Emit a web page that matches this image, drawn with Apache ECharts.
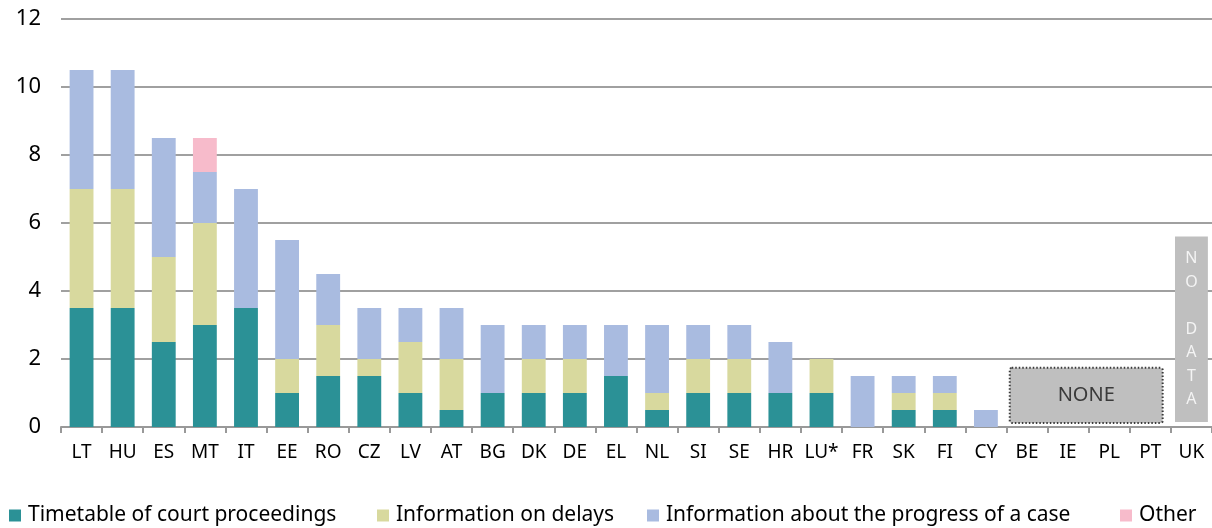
<!DOCTYPE html>
<html>
<head>
<meta charset="utf-8">
<script src="https://cdn.jsdelivr.net/npm/echarts@6/dist/echarts.min.js"></script>
<style>
  html, body { margin: 0; padding: 0; background: #fff; }
  #chart { width: 1212px; height: 528px; }
</style>
</head>
<body>
<div id="chart"></div>
<script>
// Member states, ordered by total number of information types offered
const categories = ['LT','HU','ES','MT','IT','EE','RO','CZ','LV','AT','BG','DK','DE','EL','NL','SI','SE','HR','LU*','FR','SK','FI','CY','BE','IE','PL','PT','UK'];

const timetable = [3.5,3.5,2.5,3,3.5,1,1.5,1.5,1,0.5,1,1,1,1.5,0.5,1,1,1,1,0,0.5,0.5,0,0,0,0,0,0];
const delays    = [3.5,3.5,2.5,3,0,1,1.5,0.5,1.5,1.5,0,1,1,0,0.5,1,1,0,1,0,0.5,0.5,0,0,0,0,0,0];
const progress  = [3.5,3.5,3.5,1.5,3.5,3.5,1.5,1.5,1,1.5,2,1,1,1.5,2,1,1,1.5,0,1.5,0.5,0.5,0.5,0,0,0,0,0];
const other     = [0,0,0,1,0,0,0,0,0,0,0,0,0,0,0,0,0,0,0,0,0,0,0,0,0,0,0,0];

const yTicks = [0, 2, 4, 6, 8, 10, 12];

// Countries offering none of the above, and countries without data
const noneGroup = ['BE', 'PT'];
const noDataGroup = ['UK'];

const seriesNames = ['Timetable of court proceedings', 'Information on delays', 'Information about the progress of a case', 'Other'];
const colors = ['#2B9196', '#D8D99E', '#A9BBE0', '#F7BBCB'];

const FONT = 'Noto Sans';

function barSeries(name, data, color) {
  return {
    name: name,
    type: 'bar',
    stack: 'total',
    data: data,
    barWidth: '58%',
    itemStyle: { color: color },
    emphasis: { disabled: true }
  };
}

// One legend block per series so each entry sits at its own spot along the bottom
const legendLefts = [9, 377, 647, 1120];
const legends = seriesNames.map(function (name, i) {
  return {
    top: 505,
    left: legendLefts[i],
    padding: 0,
    itemWidth: 12,
    itemHeight: 12,
    icon: 'rect',
    selectedMode: false,
    textStyle: { fontFamily: FONT, fontSize: 21, color: '#000', padding: [0, 0, 0, 2] },
    data: [name]
  };
});

const chart = echarts.init(document.getElementById('chart'));

chart.setOption({
  animation: false,
  color: colors,
  grid: { left: 61, right: 0, top: 19, bottom: 101, containLabel: false },
  legend: legends,
  xAxis: {
    type: 'category',
    data: categories,
    axisLine: { lineStyle: { color: '#999', width: 2 } },
    axisTick: { show: true, length: 6, lineStyle: { color: '#999', width: 2 } },
    axisLabel: { fontFamily: FONT, fontSize: 19, color: '#000', margin: 16, interval: 0 }
  },
  yAxis: {
    type: 'value',
    min: yTicks[0],
    max: yTicks[yTicks.length - 1],
    interval: 2,
    axisLine: { show: false },
    axisTick: { show: false },
    axisLabel: { fontFamily: FONT, fontSize: 22, color: '#000', margin: 20 },
    splitLine: { lineStyle: { color: '#A0A0A0', width: 2 } }
  },
  series: [
    barSeries(seriesNames[0], timetable, colors[0]),
    barSeries(seriesNames[1], delays, colors[1]),
    barSeries(seriesNames[2], progress, colors[2]),
    barSeries(seriesNames[3], other, colors[3]),
    {
      // "NONE" panel spanning the group of countries with no information
      type: 'custom',
      silent: true,
      data: [[categories.indexOf(noneGroup[0]), categories.indexOf(noneGroup[1])]],
      encode: { x: [0, 1] },
      renderItem: function (params, api) {
        const band = api.size([1, 0])[0];
        const a = api.coord([api.value(0), 0]);
        const b = api.coord([api.value(1), 0]);
        const top = api.coord([0, 1.74])[1];
        const bottom = api.coord([0, 0.12])[1];
        const x0 = a[0] - band * 0.42;
        const x1 = b[0] + band * 0.3;
        return {
          type: 'group',
          children: [
            {
              type: 'rect',
              shape: { x: x0, y: top, width: x1 - x0, height: bottom - top, r: 2 },
              style: { fill: '#BFBFBF', stroke: '#3a3a3a', lineWidth: 2, lineDash: [1.5, 2] }
            },
            {
              type: 'text',
              style: {
                x: (x0 + x1) / 2, y: (top + bottom) / 2,
                text: 'NONE', fill: '#3a3a3a',
                font: '20px "' + FONT + '"',
                align: 'center', verticalAlign: 'middle'
              }
            }
          ]
        };
      },
      z: 5
    },
    {
      // Vertical "NO DATA" panel
      type: 'custom',
      silent: true,
      data: [[categories.indexOf(noDataGroup[0])]],
      encode: { x: 0 },
      renderItem: function (params, api) {
        const band = api.size([1, 0])[0];
        const c = api.coord([api.value(0), 0]);
        const top = api.coord([0, 5.6])[1];
        const bottom = api.coord([0, 0.15])[1];
        const w = band * 0.8;
        return {
          type: 'group',
          children: [
            {
              type: 'rect',
              shape: { x: c[0] - w / 2, y: top, width: w, height: bottom - top },
              style: { fill: '#BFBFBF' }
            },
            {
              type: 'text',
              style: {
                x: c[0], y: (top + bottom) / 2,
                text: 'N\nO\n\nD\nA\nT\nA', fill: '#F4F4F4',
                font: '16px "' + FONT + '"', lineHeight: 23.5,
                align: 'center', verticalAlign: 'middle'
              }
            }
          ]
        };
      },
      z: 5
    }
  ]
});
</script>
</body>
</html>
